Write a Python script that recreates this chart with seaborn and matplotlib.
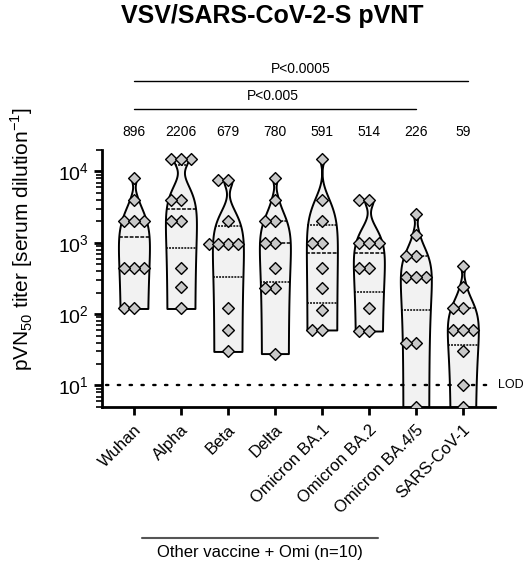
'''Violin plot of pVN50 titers per variant (VSV/SARS-CoV-2-S pVNT)'''
import matplotlib
matplotlib.use('Agg')
import matplotlib.pyplot as plt
import matplotlib.ticker as mticker
import seaborn as sns
import pandas as pd

variants = ['Wuhan', 'Alpha', 'Beta', 'Delta', 'Omicron BA.1', 'Omicron BA.2',
            'Omicron BA.4/5', 'SARS-CoV-1']
gmt_labels = ['896', '2206', '679', '780', '591', '514', '226', '59']

wuhan = [8000, 4000, 2000, 2000, 2000, 450, 450, 450, 120, 120]
alpha = [15000, 15000, 15000, 4000, 4000, 2000, 2000, 450, 240, 120]
beta = [7500, 7500, 2000, 960, 960, 960, 960, 120, 60, 30]
delta = [8000, 4000, 2000, 2000, 1000, 1000, 450, 230, 230, 28]
ba1 = [15000, 4000, 2000, 1000, 1000, 450, 230, 115, 60, 60]
ba2 = [4000, 4000, 1000, 1000, 1000, 450, 450, 120, 58, 58]
ba45 = [2500, 1300, 650, 650, 330, 330, 330, 40, 40, 5]
sars1 = [480, 240, 120, 120, 60, 60, 60, 30, 10, 5]

lod = 10

plt.rcParams['mathtext.fontset'] = 'custom'
plt.rcParams['mathtext.rm'] = 'Liberation Sans'
sns.set_style('ticks')
plt.rcParams['font.family'] = ['Liberation Sans', 'DejaVu Sans']
for k in ['text.color', 'axes.labelcolor', 'xtick.color', 'ytick.color', 'axes.edgecolor']:
    plt.rcParams[k] = 'black'

titers = [wuhan, alpha, beta, delta, ba1, ba2, ba45, sars1]
rows = []
for v, vals in zip(variants, titers):
    for t in vals:
        rows.append({'variant': v, 'titer': t})
df = pd.DataFrame(rows)

fig = plt.figure(figsize=(5.23, 5.66), dpi=100)
ax = fig.add_axes([0.195, 0.281, 0.751, 0.454])

# density is estimated on the linear titers, the axis is made log afterwards
sns.violinplot(data=df, x='variant', y='titer', order=variants,
               cut=0, inner='quart', density_norm='width', width=0.66,
               bw_adjust=0.8, gridsize=1500, color='#f2f2f2', saturation=1,
               linecolor='black', linewidth=1.4, inner_kws=dict(linewidth=1.1),
               ax=ax)
ax.set_yscale('log')
ax.axhline(lod, color='black', linestyle=(0, (1, 4)), linewidth=1.7,
           dash_capstyle='round', xmin=0.01, zorder=1.5)
sns.swarmplot(data=df, x='variant', y='titer', order=variants, log_scale=True,
              marker='D', size=6, color='#c8c8c8', edgecolor='black',
              linewidth=1, zorder=3, ax=ax)

ax.set_ylim(5, 20000)
ax.set_xlim(-0.68, 7.68)
ax.yaxis.set_major_locator(mticker.LogLocator(base=10))
ax.yaxis.set_minor_locator(mticker.LogLocator(base=10, subs=range(2, 10)))
ax.yaxis.set_minor_formatter(mticker.NullFormatter())
sns.despine(ax=ax)
for s in ['left', 'bottom']:
    ax.spines[s].set_linewidth(2)
ax.tick_params(axis='y', which='major', length=6, width=2, labelsize=14)
ax.tick_params(axis='y', which='minor', length=4, width=1.2)
ax.tick_params(axis='x', length=6, width=2, labelsize=12, pad=5)
ax.set_xlabel('')
ax.set_ylabel('')
plt.setp(ax.get_xticklabels(), rotation=45, ha='right', rotation_mode='anchor')

ax.text(7.75, lod, 'LOD', fontsize=9, va='center', ha='left')

# geometric means above each violin
for i, lab in enumerate(gmt_labels):
    ax.text(i, 1.07, lab, transform=ax.get_xaxis_transform(), ha='center',
            va='center', fontsize=10)

# significance brackets
trans = ax.get_xaxis_transform()
ax.plot([0, 6], [1.16, 1.16], color='black', linewidth=1, transform=trans,
        clip_on=False)
ax.text(2.95, 1.21, 'P<0.005', transform=trans, ha='center', va='center',
        fontsize=10)
ax.plot([0, 7.1], [1.27, 1.27], color='black', linewidth=1, transform=trans,
        clip_on=False)
ax.text(3.55, 1.315, 'P<0.0005', transform=trans, ha='center', va='center',
        fontsize=10)

fig.text(0.52, 0.972, 'VSV/SARS-CoV-2-S pVNT', ha='center', va='center',
         fontsize=18, fontweight='bold')
fig.text(0.042, 0.578, 'pVN$_{50}$ titer [serum dilution$^{-1}$]', rotation=90,
         ha='center', va='center', fontsize=15)

fig.lines.append(plt.Line2D([142 / 523, 378 / 523], [1 - 538 / 566, 1 - 538 / 566],
                            color='#555555', linewidth=1.5, transform=fig.transFigure))
fig.text(260 / 523, 1 - 553 / 566, 'Other vaccine + Omi (n=10)', ha='center',
         va='center', fontsize=12)

fig.savefig('out.png', dpi=100)
